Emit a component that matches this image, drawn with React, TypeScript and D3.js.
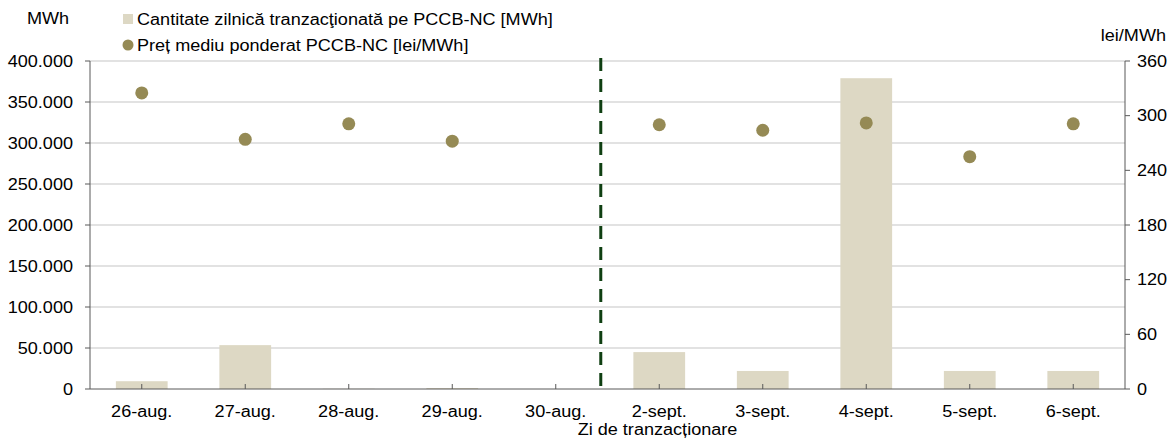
import React from 'react';
import * as d3 from 'd3';

const categories = ['26-aug.', '27-aug.', '28-aug.', '29-aug.', '30-aug.', '2-sept.', '3-sept.', '4-sept.', '5-sept.', '6-sept.'];
const volumeMWh = [9500, 53500, 300, 1200, 0, 45000, 22000, 379000, 22000, 22000];
const priceLei: (number | null)[] = [325, 274, 291, 272, null, 290, 284, 292, 255, 291];
const leftTicks = [0, 50000, 100000, 150000, 200000, 250000, 300000, 350000, 400000];
const rightTicks = [0, 60, 120, 180, 240, 300, 360];

const W = 1173;
const H = 438;
const left = 90;
const right = 1125;
const top = 61;
const bottom = 389;

const fmt = (v: number) => (v === 0 ? '0' : d3.format(',')(v).replace(/,/g, '.'));

// text is a bit wider than tall in the original, so stretch it horizontally
function T(props: { x: number; y: number; anchor?: string; children: React.ReactNode }) {
  return (
    <g transform={`translate(${props.x},${props.y}) scale(1.13,1)`}>
      <text dy="0.35em" textAnchor={props.anchor || 'start'} fontSize={16} fill="#000">{props.children}</text>
    </g>
  );
}

export default function App() {
  const x = d3.scaleBand<string>().domain(categories).range([left, right]).paddingInner(0.5).paddingOuter(0.25);
  const yL = d3.scaleLinear().domain([0, 400000]).range([bottom, top]);
  const yR = d3.scaleLinear().domain([0, 360]).range([bottom, top]);
  const step = x.step();
  const cx = (c: string) => (x(c) as number) + x.bandwidth() / 2;
  const splitX = cx('30-aug.') + step * 0.435;
  const font = 'Liberation Sans, Arial, sans-serif';

  return (
    <svg width={W} height={H} style={{ position: 'absolute', left: 0, top: 0 }} fontFamily={font}>
      <rect width={W} height={H} fill="#fff" />
      {leftTicks.slice(1).map(t => (
        <line key={t} x1={left} x2={right} y1={yL(t)} y2={yL(t)} stroke="#d9d9d9" strokeWidth={1.5} />
      ))}
      {categories.map((c, i) => (
        <rect key={c} x={x(c)} width={x.bandwidth()} y={yL(volumeMWh[i])} height={bottom - yL(volumeMWh[i])} fill="#ddd8c4" />
      ))}
      <line x1={splitX} x2={splitX} y1={top - 3} y2={bottom} stroke="#0f3f12" strokeWidth={3} strokeDasharray="13,8" />
      {categories.map((c, i) =>
        priceLei[i] == null ? null : <circle key={c} cx={cx(c)} cy={yR(priceLei[i] as number)} r={6.5} fill="#958a55" />
      )}
      {/* axes */}
      <line x1={left} x2={left} y1={top} y2={bottom} stroke="#595959" strokeWidth={1} />
      <line x1={right} x2={right} y1={top} y2={bottom} stroke="#595959" strokeWidth={1} />
      <line x1={left} x2={right} y1={bottom} y2={bottom} stroke="#595959" strokeWidth={1} />
      {leftTicks.map(t => (
        <g key={t}>
          <line x1={left - 5} x2={left} y1={yL(t)} y2={yL(t)} stroke="#595959" />
          <T x={left - 17} y={yL(t)} anchor="end">{fmt(t)}</T>
        </g>
      ))}
      {rightTicks.map(t => (
        <g key={t}>
          <line x1={right} x2={right + 5} y1={yR(t)} y2={yR(t)} stroke="#595959" />
          <T x={right + 12} y={yR(t)}>{t}</T>
        </g>
      ))}
      {categories.map(c => (
        <g key={c}>
          <line x1={cx(c)} x2={cx(c)} y1={bottom - 5} y2={bottom} stroke="#595959" />
          <T x={cx(c)} y={411} anchor="middle">{c}</T>
        </g>
      ))}
      <T x={(left + right) / 2 + 50} y={429} anchor="middle">Zi de tranzacționare</T>
      <T x={48} y={18} anchor="middle">MWh</T>
      <T x={1166} y={35} anchor="end">lei/MWh</T>
      {/* legend */}
      <rect x={123} y={14} width={10} height={10} fill="#ddd8c4" />
      <T x={137} y={19}>Cantitate zilnică tranzacţionată pe PCCB-NC [MWh]</T>
      <circle cx={128} cy={45} r={5.5} fill="#958a55" />
      <T x={137} y={45}>Preț mediu ponderat PCCB-NC [lei/MWh]</T>
    </svg>
  );
}
